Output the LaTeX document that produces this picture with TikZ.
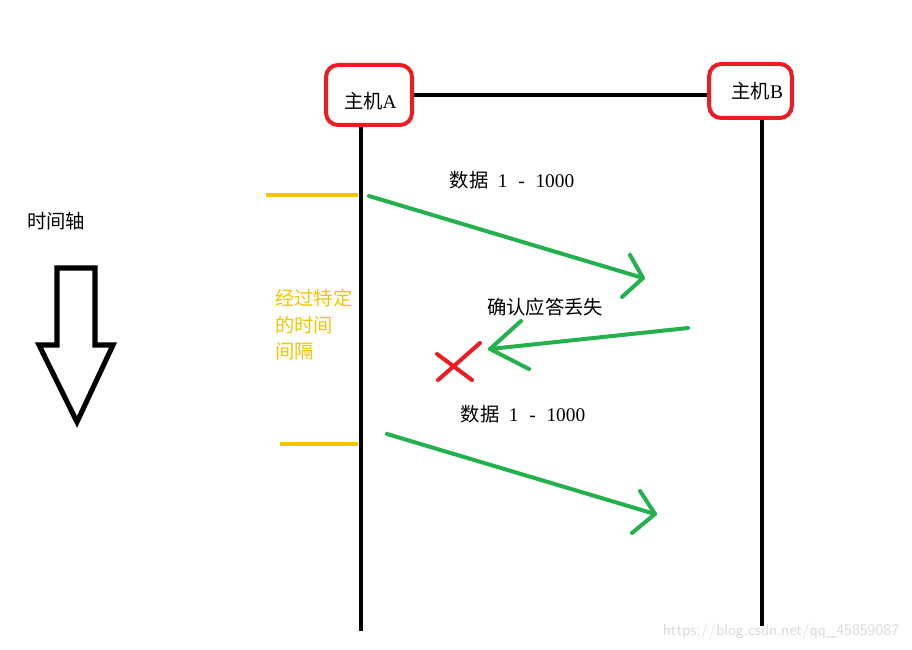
\documentclass[tikz,border=0pt]{standalone}
\usepackage{fontspec}
\setmainfont{Liberation Serif}
\newfontfamily\cjk{Noto Sans CJK SC}
\begin{document}
\begin{tikzpicture}[x=0.75pt,y=-0.75pt,
  hostbox/.style={draw=hostred,line width=3pt,rounded corners=9pt,minimum width=64.5pt,minimum height=45pt,inner sep=0pt,font=\fontsize{14.5}{16}\selectfont},
  wire/.style={line width=3pt,black},
  yline/.style={line width=2.4pt,tyellow},
  garrow/.style={line width=3pt,tgreen,line cap=round,line join=round},
  xline/.style={line width=3pt,hostred,line cap=round},
  lbl/.style={font=\fontsize{14.5}{16}\selectfont,inner sep=0pt},
  ylbl/.style={font=\fontsize{14.5}{20}\selectfont,text=tyellow,align=left,inner sep=0pt,anchor=north west}]
\definecolor{hostred}{HTML}{ED1C24}
\definecolor{tgreen}{HTML}{22B14C}
\definecolor{tyellow}{HTML}{F5C400}
\newcommand{\dnum}{{\cjk 数据}\hspace{7pt}1\hspace{7pt}\makebox[7pt]{-}\hspace{7pt}1000}
\useasboundingbox[fill=white] (0,0) rectangle (912,649);
% hosts
\node[hostbox] (A) at (369,95) {\raisebox{-10pt}[0pt][0pt]{\hspace{2pt}{\cjk 主机}A}};
\node[hostbox,minimum width=62pt,minimum height=40.5pt] (B) at (750.5,91) {\raisebox{-6pt}[0pt][0pt]{\hspace{10pt}{\cjk 主机}B}};
\draw[wire] (A.east) -- (A.east -| B.west);
% time lines
\coordinate (Aend) at (361,631);
\coordinate (Bend) at (762,626);
\draw[wire] (A.south -| Aend) -- (Aend);
\draw[wire] (B.south -| Bend) -- (Bend);
% yellow markers
\coordinate (y1a) at (266,195); \coordinate (y1b) at (358,195);
\coordinate (y2a) at (280,444); \coordinate (y2b) at (358,444);
\draw[yline] (y1a) -- (y1b);
\draw[yline] (y2a) -- (y2b);
\node[ylbl] (gap) at (275,289) {\cjk 经过特定\\\cjk 的时间\\\cjk 间隔};
% arrow 1
\coordinate (s1) at (369,196); \coordinate (t1) at (643,278);
\coordinate (u1) at (630,255); \coordinate (l1) at (622,297);
\draw[garrow] (s1) -- (t1);
\draw[garrow] (u1) -- (t1) -- (l1);
\node[lbl] (d1) at (512,180) {\dnum};
% arrow 2 (ack)
\coordinate (s2) at (688,328); \coordinate (t2) at (490,349);
\coordinate (u2) at (521,321); \coordinate (l2) at (529,369);
\draw[garrow] (s2) -- (t2);
\draw[garrow] (u2) -- (t2) -- (l2);
\node[lbl] (ack) at (545,307) {\cjk 确认应答丢失};
% red cross
\coordinate (x1) at (437,354); \coordinate (x2) at (472,380);
\coordinate (x3) at (480,343); \coordinate (x4) at (438,380);
\draw[xline] (x1) -- (x2);
\draw[xline] (x3) -- (x4);
% arrow 3
\coordinate (s3) at (387,434); \coordinate (t3) at (655,514);
\coordinate (u3) at (640,491); \coordinate (l3) at (632,533);
\draw[garrow] (s3) -- (t3);
\draw[garrow] (u3) -- (t3) -- (l3);
\node[lbl] (d2) at (523,414) {\dnum};
% time axis
\node[lbl] (axis) at (56,221) {\cjk 时间轴};
\coordinate (p1) at (57,268); \coordinate (p2) at (95,268);
\coordinate (p3) at (95,345); \coordinate (p4) at (113,345);
\coordinate (p5) at (77,422); \coordinate (p6) at (39,345);
\coordinate (p7) at (57,345);
\draw[line width=3.8pt,line join=miter] (p1) -- (p2) -- (p3) -- (p4) -- (p5) -- (p6) -- (p7) -- cycle;
% watermark
\node[font=\sffamily\fontsize{12}{14}\selectfont,text=black!15,inner sep=0pt] (wm) at (781,631) {https://blog.csdn.net/qq\_45859087};
\end{tikzpicture}
\end{document}
